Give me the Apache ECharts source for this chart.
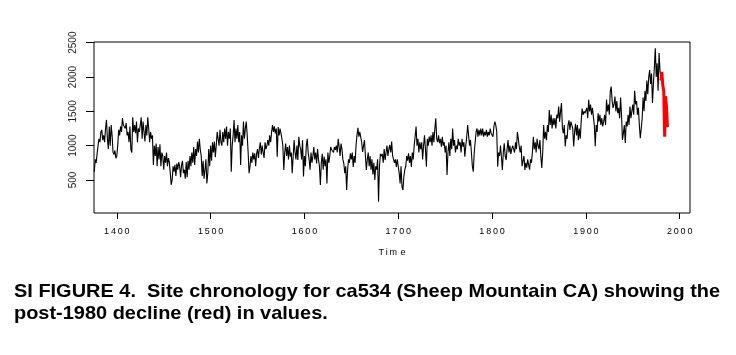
<!DOCTYPE html>
<html>
<head>
<meta charset="utf-8">
<script src="https://cdn.jsdelivr.net/npm/echarts@6/dist/echarts.min.js"></script>
<style>
html,body{margin:0;padding:0;background:#fff;}
#chart{width:736px;height:355px;}
</style>
</head>
<body>
<div id="chart"></div>
<script>
// Chronology values (annual)
const startYear = 1376;
const vals1376 = [620, 800, 750, 880,
  1000, 1100, 1050, 1200, 1230, 1080, 1150, 1050, 1250, 1375,
  1100, 950, 1280, 1000, 1300, 1150, 900, 870, 930, 816];
const vals1400s = [
  850, 1000, 1230, 1150, 1280, 1200, 1400, 1300, 1320, 1250,
  1330, 1150, 1200, 1050, 1280, 940, 900, 1414, 1200, 1300,
  1180, 1350, 1050, 1250, 1200, 1300, 1414, 1100, 1350, 1200,
  1060, 1300, 1150, 1414, 1250, 1050, 1200, 1100, 1150, 720,
  1000, 850, 1030, 700, 980, 800, 1020, 700, 900, 850,
  650, 850, 750, 900, 700, 820, 760, 600, 430, 500,
  700, 620, 720, 560, 740, 650, 760, 700, 540, 720,
  780, 600, 650, 520, 760, 540, 780, 650, 850, 700,
  900, 750, 980, 720, 950, 850, 1060, 900, 1100, 940,
  850, 560, 780, 520, 650, 800, 450, 600, 950, 700];
const vals1500s = [
  1000, 780, 1050, 900, 1060, 830, 1000, 1200, 1100, 1000,
  1230, 1050, 1000, 1200, 1050, 1250, 1100, 1280, 1000, 1200,
  1100, 1250, 620, 1000, 1150, 1375, 1050, 1250, 1100, 1300,
  1050, 1200, 720, 1150, 1000, 1350, 1100, 1250, 1350, 1150,
  900, 600, 700, 850, 750, 900, 800, 890, 700, 880,
  950, 820, 960, 1050, 870, 1000, 900, 820, 1050, 950,
  1000, 1080, 1000, 1150, 1050, 1200, 1300, 1200, 1280, 1180,
  1250, 840, 1270, 1150, 1250, 1180, 1100, 1000, 646, 900,
  1030, 850, 980, 800, 1000, 840, 900, 600, 850, 1080,
  900, 800, 1000, 790, 1130, 1000, 950, 800, 1080, 550];
const vals1600s = [
  850, 700, 1000, 1100, 900, 800, 650, 900, 750, 850,
  980, 800, 900, 740, 950, 800, 700, 427, 750, 880,
  650, 840, 700, 800, 450, 900, 750, 850, 980, 940,
  960, 900, 980, 940, 1000, 900, 1100, 980, 850, 1030,
  950, 800, 740, 600, 700, 354, 650, 800, 750, 889,
  800, 900, 690, 850, 750, 1000, 1150, 1260, 1130, 1200,
  1180, 1050, 910, 1000, 1080, 850, 646, 800, 900, 700,
  850, 650, 800, 580, 750, 500, 700, 650, 800, 184,
  700, 880, 850, 880, 750, 950, 790, 900, 1000, 850,
  950, 1010, 900, 1060, 850, 860, 750, 800, 690, 800];
const vals1700s = [
  700, 600, 450, 700, 400, 354, 550, 650, 700, 850,
  780, 890, 750, 850, 690, 900, 800, 1000, 1130, 1278,
  1000, 1100, 900, 1050, 950, 1050, 800, 1000, 1150, 950,
  694, 1100, 1000, 1132, 1050, 1150, 1000, 1200, 1050, 1250,
  1400, 1100, 1050, 1150, 1035, 1100, 986, 1130, 1000, 1050,
  900, 1000, 573, 900, 1050, 850, 1100, 950, 1250, 1000,
  1083, 900, 1000, 950, 1100, 1000, 1050, 900, 1100, 986,
  1050, 840, 1000, 1130, 1300, 1150, 1000, 1083, 900, 700,
  620, 900, 1050, 1200, 1250, 1130, 1230, 1150, 1250, 1150,
  1250, 1130, 1200, 1150, 1229, 1130, 1200, 1150, 1250, 1180];
const vals1800s = [
  1200, 1130, 1280, 1350, 1300, 1200, 694, 900, 850, 1000,
  830, 646, 900, 1035, 850, 790, 950, 1080, 900, 1000,
  880, 950, 1000, 990, 900, 1050, 950, 1200, 1100, 980,
  900, 1000, 700, 694, 850, 646, 750, 680, 800, 720,
  650, 800, 750, 900, 1130, 950, 1050, 900, 1100, 1000,
  950, 1083, 840, 675, 900, 1300, 1100, 1200, 1080, 1300,
  1200, 1520, 1300, 1450, 1250, 1400, 1300, 1400, 1250, 1450,
  1400, 1570, 1350, 1500, 1620, 1250, 1180, 1300, 990, 1150,
  1100, 1300, 1370, 1230, 1350, 1300, 1250, 990, 1200, 1320,
  1150, 1300, 1080, 1250, 1100, 1350, 1540, 1450, 1500, 1470];
const vals1900s = [
  1450, 1550, 1400, 1670, 1500, 1600, 1450, 1550, 1420, 1300,
  990, 1300, 1200, 1470, 1350, 1450, 1300, 1400, 1280, 1350,
  1450, 1300, 1670, 1500, 1600, 1450, 1790, 1860, 1650, 1550,
  1600, 1715, 1500, 1650, 1472, 1550, 1400, 1700, 1450, 1083,
  1185, 1300, 1040, 1350, 1280, 1450, 1300, 1570, 1400, 1500,
  1600, 1450, 1800, 1600, 1650, 1450, 1550, 1300, 1110, 1250,
  1400, 1700, 1500, 1800, 1650, 1950, 1750, 2000, 2100, 1900,
  2050, 1620, 1900, 2150, 2420, 2000, 2200, 1800, 2350, 2100,
  1950];
// post-1980 segment (red)
const redStartYear = 1980;
const valsRed = [1950, 2075, 1880, 1800, 1130, 1720, 1560, 1270];

const xTicks = [1400, 1500, 1600, 1700, 1800, 1900, 2000];
const yTicks = [500, 1000, 1500, 2000, 2500];

const allVals = [].concat(vals1376, vals1400s, vals1500s, vals1600s, vals1700s, vals1800s, vals1900s);
const blackData = allVals.map((v, i) => [startYear + i, v]);
const redData = valsRed.map((v, i) => [redStartYear + i, v]);

const spaced = s => String(s).split('').join('\u2009');

const chart = echarts.init(document.getElementById('chart'), null, {renderer: 'canvas'});
chart.setOption({
  animation: false,
  backgroundColor: '#fff',
  grid: {left: 94, right: 46, top: 42, bottom: 142, show: true, borderColor: '#000', borderWidth: 1, backgroundColor: 'transparent'},
  xAxis: {
    type: 'value', min: 1375.7, max: 2011,
    splitLine: {show: false},
    axisLine: {show: false},
    axisTick: {show: true, customValues: xTicks, length: 6, lineStyle: {color: '#000'}},
    axisLabel: {customValues: xTicks, formatter: v => spaced(v), fontSize: 9, color: '#000', margin: 14, fontFamily: 'Liberation Sans'},
    name: 'T\u2009i\u2009m\u2009\u2009e', nameLocation: 'middle', nameGap: 35,
    nameTextStyle: {fontSize: 9, color: '#000', fontFamily: 'Liberation Sans'}
  },
  yAxis: {
    type: 'value', min: 19, max: 2510,
    splitLine: {show: false},
    axisLine: {show: false},
    axisTick: {show: true, customValues: yTicks, length: 8, lineStyle: {color: '#000'}},
    axisLabel: {customValues: yTicks, formatter: v => String(v), rotate: 90, fontSize: 10, color: '#222', margin: 16, fontFamily: 'Liberation Sans'}
  },
  series: [
    {type: 'line', data: blackData, showSymbol: false, lineStyle: {color: '#000', width: 1.1}, itemStyle: {color: '#000'}, z: 2},
    {type: 'line', data: redData, showSymbol: false, lineStyle: {color: '#ff0000', width: 3}, itemStyle: {color: '#ff0000'}, z: 3}
  ],
  graphic: [
    {type: 'text', left: 14, top: 282, scaleX: 1.05, style: {text: 'SI FIGURE 4.  Site chronology for ca534 (Sheep Mountain CA) showing the', font: 'bold 19px "Liberation Sans"', fill: '#000'}},
    {type: 'text', left: 14, top: 304, scaleX: 1.05, style: {text: 'post-1980 decline (red) in values.', font: 'bold 19px "Liberation Sans"', fill: '#000'}}
  ]
});
</script>
</body>
</html>
